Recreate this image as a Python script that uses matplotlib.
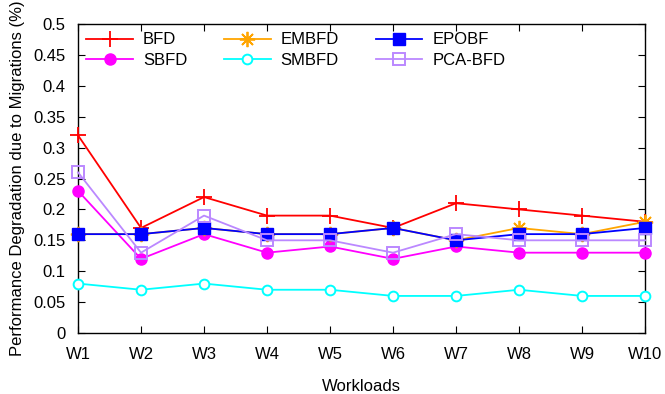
import matplotlib
matplotlib.use("Agg")
import matplotlib.pyplot as plt

workloads = ["W1", "W2", "W3", "W4", "W5", "W6", "W7", "W8", "W9", "W10"]
bfd = [0.32, 0.17, 0.22, 0.19, 0.19, 0.17, 0.21, 0.20, 0.19, 0.18]
sbfd = [0.23, 0.12, 0.16, 0.13, 0.14, 0.12, 0.14, 0.13, 0.13, 0.13]
embfd = [0.16, 0.16, 0.17, 0.16, 0.16, 0.17, 0.15, 0.17, 0.16, 0.18]
smbfd = [0.08, 0.07, 0.08, 0.07, 0.07, 0.06, 0.06, 0.07, 0.06, 0.06]
epobf = [0.16, 0.16, 0.17, 0.16, 0.16, 0.17, 0.15, 0.16, 0.16, 0.17]
pcabfd = [0.26, 0.13, 0.19, 0.15, 0.15, 0.13, 0.16, 0.15, 0.15, 0.15]
yticks = [0, 0.05, 0.1, 0.15, 0.2, 0.25, 0.3, 0.35, 0.4, 0.45, 0.5]

plt.rcParams['font.family'] = ['Liberation Sans', 'DejaVu Sans']

fig = plt.figure(figsize=(6.65, 3.94), dpi=100)
ax = fig.add_axes([0.1173, 0.1548, 0.8527, 0.7842])
x = list(range(1, len(workloads) + 1))

lw = 1.3
common = dict(lw=lw, clip_on=False)
ax.plot(x, bfd, color='#ff0000', marker='+', ms=11, mew=1.3, label='BFD', **common)
ax.plot(x, sbfd, color='#ff00ff', marker='o', ms=8, label='SBFD', **common)
ax.plot(x, embfd, color='#ffa500', marker=(8, 2, 0), ms=11, mew=1.3, label='EMBFD', **common)
ax.plot(x, smbfd, color='#00ffff', marker='o', ms=7, mfc='white', mew=1.4, label='SMBFD', **common)
ax.plot(x, epobf, color='#0000ff', marker='s', ms=8, label='EPOBF', **common)
ax.plot(x, pcabfd, color='#bb88ff', marker='s', ms=8, mfc='none', mew=1.4, label='PCA-BFD', **common)

ax.set_xlim(1, 10)
ax.set_ylim(0, 0.5)
ax.set_xticks(x)
ax.set_xticklabels(workloads)
ax.set_yticks(yticks)
ax.set_yticklabels([f"{v:g}" for v in yticks])
ax.tick_params(direction='in', top=True, right=True, labelsize=12, length=5)
ax.tick_params(axis='x', pad=10)
ax.tick_params(axis='y', pad=9)
for s in ax.spines.values():
    s.set_linewidth(1.0)
    s.set_zorder(1)

ax.set_xlabel('Workloads', fontsize=12, labelpad=12)
ax.set_ylabel('Performance Degradation due to Migrations (%)', fontsize=12, labelpad=6)

ax.legend(ncol=3, loc='upper left', frameon=False, fontsize=12,
          handlelength=2.8, columnspacing=2.2, handletextpad=0.6,
          borderaxespad=0.1, labelspacing=0.35, bbox_to_anchor=(0.0, 1.0))

fig.savefig('out.png', dpi=100)
